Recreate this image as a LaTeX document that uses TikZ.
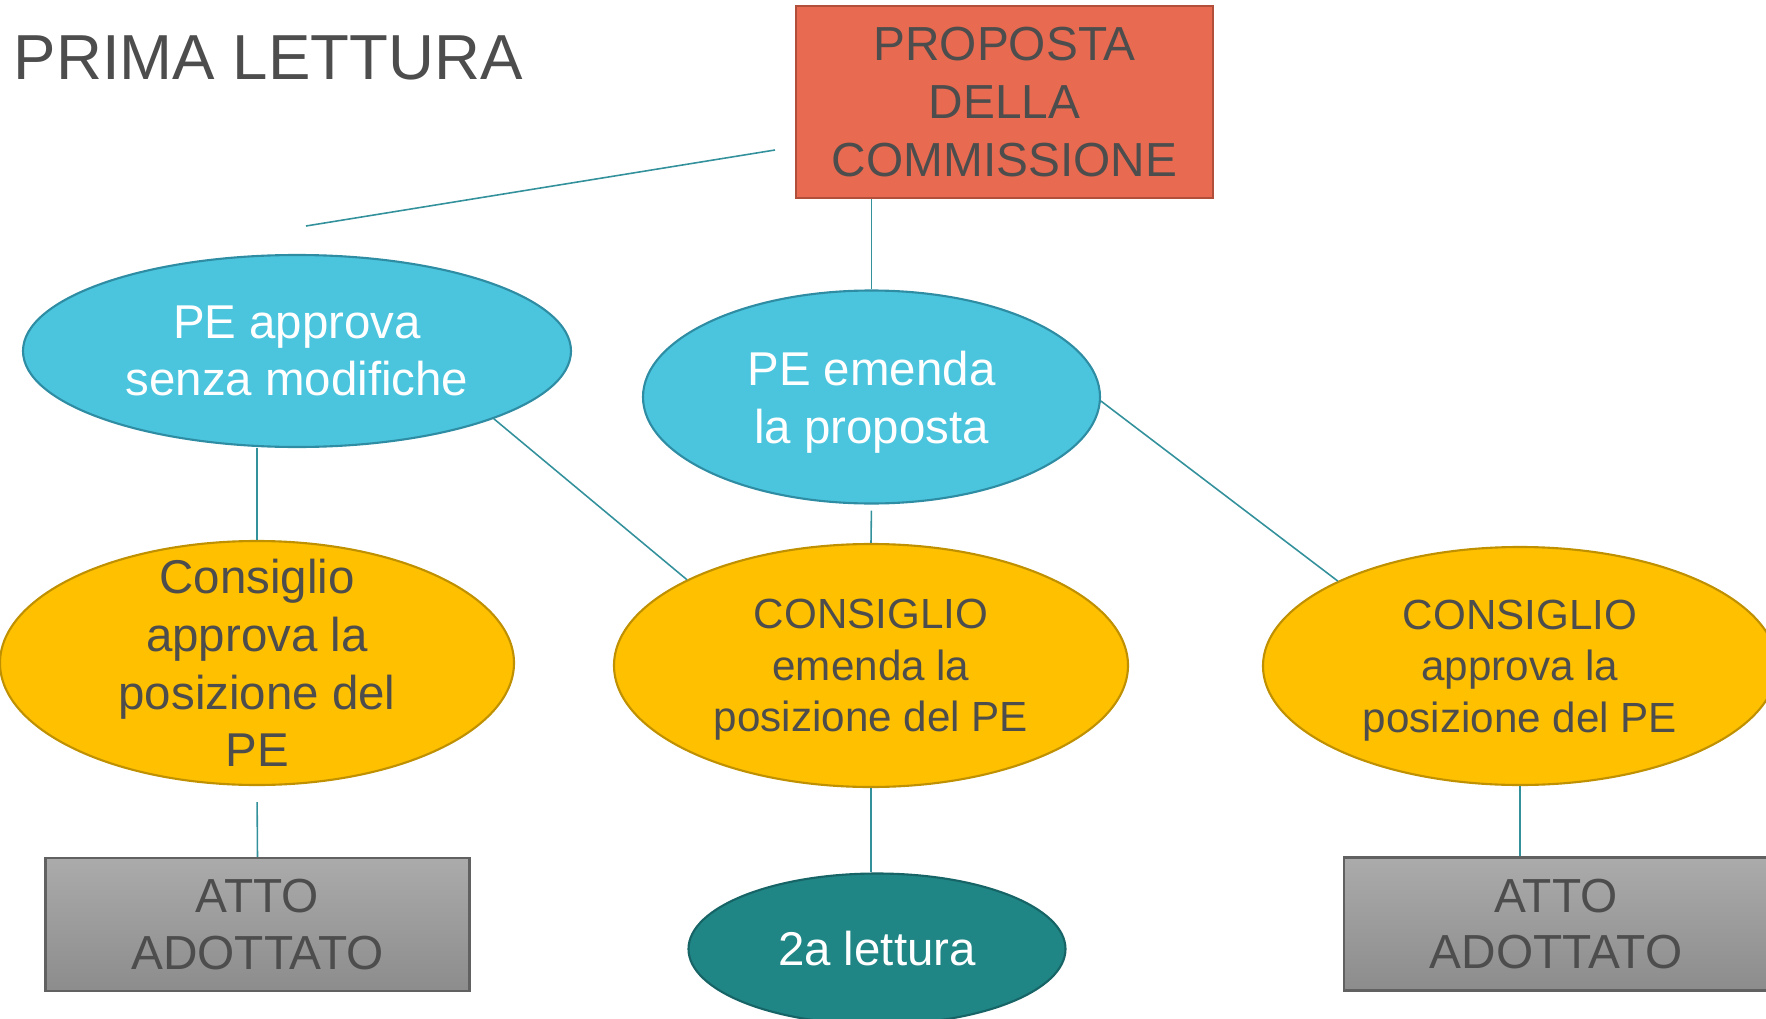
\documentclass[tikz,border=0pt]{standalone}
\usepackage{fontspec}
\setmainfont{Liberation Sans}
\usetikzlibrary{shapes,positioning}

\definecolor{propred}{HTML}{E86A50}
\definecolor{propredline}{HTML}{B24F3B}
\definecolor{peblue}{HTML}{4BC5DE}
\definecolor{peblueline}{HTML}{2E8CA3}
\definecolor{cgold}{HTML}{FFC000}
\definecolor{cgoldline}{HTML}{BF9000}
\definecolor{secteal}{HTML}{1F8585}
\definecolor{sectealline}{HTML}{176466}
\definecolor{txtgray}{HTML}{4D4D4D}
\definecolor{linkteal}{HTML}{33919C}

\begin{document}
\begin{tikzpicture}
[
  every node/.style={font=\fontsize{13.5}{16.4}\selectfont, text=txtgray, align=center, inner sep=0pt}
, link/.style={draw=linkteal, line width=0.45pt}
, bubble/.style={ellipse, line width=0.6pt}
, pebubble/.style={bubble, fill=peblue, draw=peblueline, text=white}
, cbubble/.style={bubble, fill=cgold, draw=cgoldline, minimum width=5.14cm}
, smalltext/.style={font=\fontsize{12}{14.7}\selectfont, text depth=0pt}
, attobox/.style={rectangle, draw=black!62, line width=0.6pt, top color=black!33, bottom color=black!45, minimum width=4.24cm, minimum height=1.33cm, font=\fontsize{13.6}{16}\selectfont}
]

\useasboundingbox (0,0) rectangle (17.66,-10.19);

% title
\node[anchor=base west, font=\fontsize{18.1}{22}\selectfont] (title) at (0.13,-0.79) {PRIMA LETTURA};

% proposal
\node[rectangle, fill=propred, draw=propredline, line width=0.6pt, minimum width=4.17cm, minimum height=1.92cm, font=\fontsize{13.6}{16.5}\selectfont] (prop) at (10.045,-1.02) {PROPOSTA\\DELLA\\COMMISSIONE};

% parliament
\node[pebubble, minimum width=5.48cm, minimum height=1.92cm] (peapp) at (2.97,-3.51) {PE approva\\senza modifiche};
\node[pebubble, minimum width=4.57cm, minimum height=2.13cm, text depth=0pt] (peem) at (8.715,-3.97) {PE emenda\\la proposta};

% council
\node[cbubble, minimum height=2.44cm, inner ysep=-.4cm] (cons1) at (2.57,-6.63) {Consiglio\\approva la\\posizione del\\PE};
\node[cbubble, minimum height=2.43cm, smalltext] (cons2) at (8.71,-6.655) {CONSIGLIO\\emenda la\\posizione del PE};
\node[cbubble, minimum height=2.38cm, smalltext] (cons3) at (15.20,-6.66) {CONSIGLIO\\approva la\\posizione del PE};

% outcomes
\node[attobox] (atto1) at (2.575,-9.245) {ATTO\\ADOTTATO};
\node[bubble, fill=secteal, draw=sectealline, text=white, minimum width=3.77cm, minimum height=1.51cm] (second) at (8.77,-9.49) {2a lettura};
\node[attobox] (atto2) at (15.56,-9.24) {ATTO\\ADOTTATO};

% links
\coordinate (stray1) at (7.75,-1.50);
\coordinate (stray2) at (3.06,-2.26);
\draw[link] (stray1) -- (stray2);
\draw[link] (peem.north) -- (peem.north |- prop.south);
\draw[link] (cons1.north) -- (cons1.north |- peapp.south);
\draw[link] (peapp.-19) -- (cons2.155);
\draw[link] (peem.-1) -- (cons3.155);
\draw[link, shorten <=0.06cm] (peem.south) -- (cons2.north);
\draw[link, shorten <=0.16cm] (cons1.south) -- (atto1.north);
\draw[link] (cons2.south) -- (cons2.south |- second.north);
\draw[link] (cons3.south) -- (cons3.south |- atto2.north);

\end{tikzpicture}
\end{document}
